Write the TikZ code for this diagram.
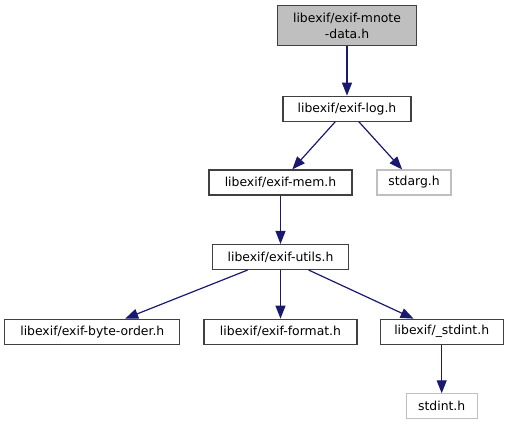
\documentclass[tikz,border=0pt]{standalone}
\usepackage{fontspec}
\setmainfont{DejaVu Sans}
\usepackage{tikz}
\usetikzlibrary{arrows.meta}
\definecolor{edgeblue}{HTML}{191970}
\definecolor{boxline}{HTML}{404040}
\definecolor{extline}{HTML}{BFBFBF}
\definecolor{curfill}{HTML}{BFBFBF}
\tikzset{
  every picture/.append style={font=\fontsize{12.4}{15.5}\selectfont},
  hdr/.style    = {rectangle, draw=boxline, line width=1.1pt, fill=white,
                   minimum height=25pt, inner sep=0pt, align=center},
  hdrcur/.style = {hdr, fill=curfill, minimum height=40pt},
  hdrext/.style = {hdr, draw=extline},
  dep/.style    = {draw=edgeblue, line width=1.2pt,
                   -{Stealth[length=13pt, width=10pt, inset=0pt]}},
}

\begin{document}
\begin{tikzpicture}[x=1pt,y=-1pt]
      \useasboundingbox (0,0) rectangle (509,425);
      \node[hdrcur, minimum width=139pt] (mnote)  at (347,25.7)  {libexif/exif-mnote\\-data.h};
      \node[hdr, minimum width=128pt]    (log)    at (347,108.7)  {libexif/exif-log.h};
      \node[hdr, minimum width=143pt]    (mem)    at (280.5,182.5) {libexif/exif-mem.h};
      \node[hdrext, minimum width=74pt]  (stdarg) at (414,182.5)  {stdarg.h};
      \node[hdr, minimum width=136pt]    (utils)  at (280.5,257)  {libexif/exif-utils.h};
      \node[hdr, minimum width=175pt]    (border) at (92.3,331.7) {libexif/exif-byte-order.h};
      \node[hdr, minimum width=153pt]    (format) at (280.5,331.7) {libexif/exif-format.h};
      \node[hdr, minimum width=123pt]    (ustdint) at (441.7,331.7) {libexif/\_stdint.h};
      \node[hdrext, minimum width=71pt]  (stdint) at (441.7,406.3) {stdint.h};

      \draw[dep] (mnote) -- (log);
      \draw[dep] (log) -- (mem);
      \draw[dep] (log) -- (stdarg);
      \draw[dep] (mem) -- (utils);
      \draw[dep] (utils) -- (border);
      \draw[dep] (utils) -- (format);
      \draw[dep] (utils) -- (ustdint);
      \draw[dep] (ustdint) -- (stdint);
    \end{tikzpicture}
\end{document}
